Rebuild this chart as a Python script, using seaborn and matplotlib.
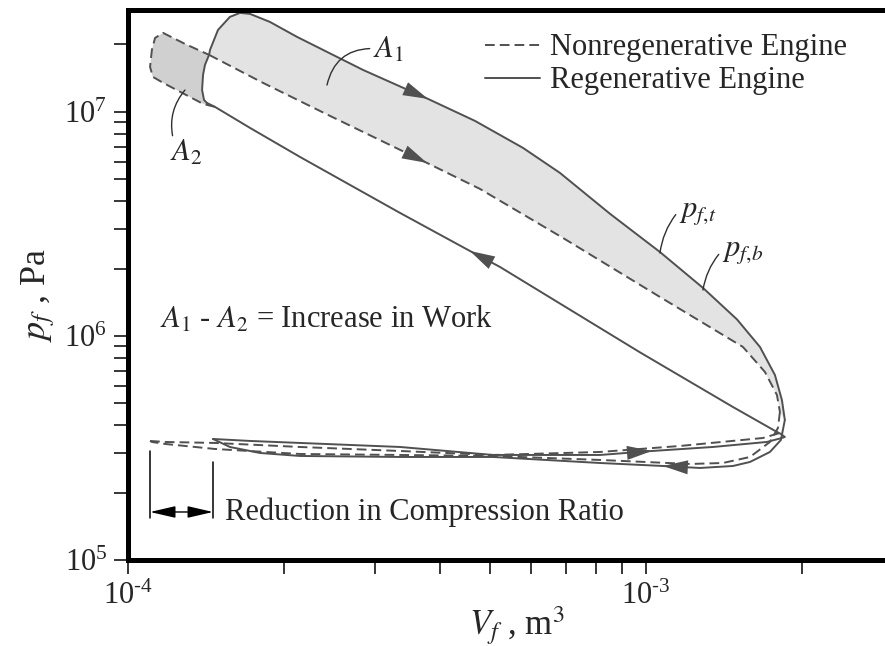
import numpy as np
import pandas as pd
import matplotlib
matplotlib.use("Agg")
import matplotlib.pyplot as plt
from matplotlib.ticker import LogLocator, NullFormatter, FuncFormatter
import seaborn as sns

# ---- cycle data: volume V_f [m^3] and pressure p_f [Pa] ----
# compression stroke shared by both engines (max volume -> min volume)
comp_V = np.array([17.90, 14.72, 9.737, 5.226, 4.571, 3.351, 2.148, 1.720, 1.472, 1.420]) * 1e-4
comp_p = np.array([3.728, 4.819, 8.45, 20.32, 23.96, 35.41, 62.96, 84.85, 105.3, 109.7]) * 1e5

# regenerative engine
regen_rise_V = np.array([1.420, 1.402, 1.390, 1.396, 1.408, 1.434]) * 1e-4
regen_rise_p = np.array([109.7, 113.1, 125.4, 146.3, 162.1, 179.7]) * 1e5
regen_exp_V = np.array([1.434, 1.440, 1.492, 1.573, 1.645, 1.720, 1.879, 2.120, 2.842, 3.795, 4.677,
                        5.788, 6.823, 8.522, 10.64, 12.88, 14.99, 16.60, 17.74, 18.30, 18.54]) * 1e-4
regen_exp_p = np.array([179.7, 189.2, 232.3, 265.5, 276.7, 273.8, 252.2, 216.2, 154.0, 114.3, 91.16,
                        69.1, 53.42, 35.1, 23.7, 16.4, 11.85, 8.930, 6.697, 5.179, 4.217]) * 1e5
regen_ret_V = np.array([18.54, 18.22, 17.35, 15.88, 14.72, 12.71, 10.78, 8.151, 5.066, 3.351, 2.148,
                        1.798, 1.573, 1.459]) * 1e-4
regen_ret_p = np.array([4.217, 3.434, 3.035, 2.739, 2.628, 2.575, 2.628, 2.710, 2.883, 2.883, 2.913,
                        3.004, 3.195, 3.469]) * 1e5
regen_out_V = np.array([1.459, 1.720, 2.148, 3.351, 5.066, 8.151, 10.27, 13.47, 17.12, 18.30, 18.54,
                        18.22, 17.90]) * 1e-4
regen_out_p = np.array([3.469, 3.399, 3.330, 3.195, 2.943, 2.943, 3.066, 3.195, 3.364, 3.504, 3.541,
                        3.652, 3.728]) * 1e5

# nonregenerative engine
nonreg_rise_V = np.array([1.472, 1.396, 1.169, 1.117, 1.103, 1.112, 1.128, 1.169, 1.288, 1.434]) * 1e-4
nonreg_rise_p = np.array([105.3, 108.6, 134.8, 143.3, 158.8, 189.2, 214.0, 225.2, 201.2, 179.7]) * 1e5
nonreg_exp_V = np.array([1.434, 1.822, 2.455, 3.778, 4.780, 6.915, 10.64, 15.39, 16.97, 17.90, 18.14]) * 1e-4
nonreg_exp_p = np.array([179.7, 134.8, 95.97, 59.2, 45.33, 27.38, 14.93, 8.930, 6.907, 5.453, 4.579]) * 1e5
nonreg_ret_V = np.array([18.14, 17.98, 17.35, 15.88, 14.08, 12.16, 8.151, 5.066, 3.351, 2.148, 1.472,
                         1.179, 1.112, 1.103]) * 1e-4
nonreg_ret_p = np.array([4.579, 3.884, 3.364, 2.883, 2.710, 2.683, 2.796, 2.913, 2.943, 2.973, 3.130,
                         3.296, 3.364, 3.399]) * 1e5
nonreg_out_V = np.array([1.103, 1.179, 1.472, 2.148, 3.351, 5.066, 8.151, 11.63, 16.82, 18.14, 17.90]) * 1e-4
nonreg_out_p = np.array([3.399, 3.364, 3.330, 3.195, 3.066, 2.943, 3.035, 3.228, 3.504, 3.690, 3.728]) * 1e5

engine_names = ["Nonregenerative Engine", "Regenerative Engine"]

# ---- styling ----
sns.set_theme(style="ticks")
plt.rcParams["font.family"] = ["Liberation Serif", "DejaVu Serif"]
plt.rcParams["mathtext.fontset"] = "stix"
plt.rcParams["axes.unicode_minus"] = False

LINE = "#505050"
DASH = (0, (5, 2.6))
LW = 1.4
FS = 22

fig = plt.figure(figsize=(8.85, 6.46), dpi=100)
ax = fig.add_axes([128 / 885, 86 / 646, 765.1 / 885, 550 / 646])
ax.set_xscale("log")
ax.set_yscale("log")
ax.set_xlim(1e-4, 3e-3)
ax.set_ylim(1e5, 2.85e7)

# shaded work areas
a1_V = np.concatenate([regen_exp_V, nonreg_exp_V[::-1]])
a1_p = np.concatenate([regen_exp_p, nonreg_exp_p[::-1]])
ax.fill(a1_V, a1_p, color="#e3e3e3", lw=0, zorder=1)
a2_V = np.concatenate([nonreg_rise_V, regen_rise_V[::-1]])
a2_p = np.concatenate([nonreg_rise_p, regen_rise_p[::-1]])
ax.fill(a2_V, a2_p, color="#d0d0d0", lw=0, zorder=1)

# cycle strokes
rows = []
strokes = [
    ("Regenerative Engine", "comp", comp_V, comp_p),
    ("Regenerative Engine", "rise", regen_rise_V, regen_rise_p),
    ("Regenerative Engine", "exp", regen_exp_V, regen_exp_p),
    ("Regenerative Engine", "ret", regen_ret_V, regen_ret_p),
    ("Regenerative Engine", "out", regen_out_V, regen_out_p),
    ("Nonregenerative Engine", "rise", nonreg_rise_V, nonreg_rise_p),
    ("Nonregenerative Engine", "exp", nonreg_exp_V, nonreg_exp_p),
    ("Nonregenerative Engine", "ret", nonreg_ret_V, nonreg_ret_p),
    ("Nonregenerative Engine", "out", nonreg_out_V, nonreg_out_p),
]
for eng, name, V, p in strokes:
    rows.append(pd.DataFrame({"V": V, "p": p, "engine": eng, "stroke": name}))
df = pd.concat(rows, ignore_index=True)

for (eng, name), sub in df.groupby(["engine", "stroke"], sort=False):
    sns.lineplot(data=sub, x="V", y="p", sort=False, estimator=None, ax=ax,
                 color=LINE, linewidth=LW,
                 linestyle="-" if eng == "Regenerative Engine" else DASH,
                 legend=False, zorder=2)


def flow_arrow(V, p, i):
    ax.annotate("", xy=(V[i], p[i]), xytext=(V[i - 1], p[i - 1]),
                arrowprops=dict(arrowstyle="-|>,head_length=1.5,head_width=0.42",
                                color=LINE, lw=0, shrinkA=0, shrinkB=0),
                zorder=4)


flow_arrow(regen_exp_V, regen_exp_p, 9)
flow_arrow(nonreg_exp_V, nonreg_exp_p, 3)
flow_arrow(comp_V, comp_p, 4)
flow_arrow(regen_out_V, regen_out_p, 6)
flow_arrow(regen_ret_V, regen_ret_p, 6)

# axes frame and ticks
for s in ax.spines.values():
    s.set_linewidth(3.6)
    s.set_color("black")


def decade_label(v, pos):
    e = int(round(np.log10(v)))
    exp = r"\text{-}%d" % abs(e) if e < 0 else "%d" % e
    return r"$\mathdefault{10^{%s}}$" % exp


ax.xaxis.set_major_locator(LogLocator(base=10))
ax.xaxis.set_minor_locator(LogLocator(base=10, subs=np.arange(2, 10)))
ax.yaxis.set_minor_locator(LogLocator(base=10, subs=np.arange(2, 10)))
ax.xaxis.set_major_formatter(FuncFormatter(decade_label))
ax.yaxis.set_major_formatter(FuncFormatter(decade_label))
ax.xaxis.set_minor_formatter(NullFormatter())
ax.yaxis.set_minor_formatter(NullFormatter())
ax.tick_params(which="both", direction="out", length=10, width=1.1, color="black",
               labelsize=FS, top=False, right=False)
ax.tick_params(axis="y", which="both", pad=5)
ax.tick_params(axis="x", which="both", pad=6)
ax.set_xlabel(r"$V_f$ , m$^3$", fontsize=25)
ax.set_ylabel(r"$p_f$ , Pa", fontsize=26)
ax.xaxis.set_label_coords(0.508, -0.080)
ax.yaxis.set_label_coords(-0.093, 0.482)

# labels with leader lines
leader = dict(arrowstyle="-", color="#303030", lw=1.0, shrinkA=0, shrinkB=0)
ax.annotate(r"$A_1$", xy=(0.2601, 0.8636), xycoords="axes fraction",
            xytext=(0.3202, 0.9273), textcoords="axes fraction", ha="left", va="center",
            fontsize=FS, arrowprops=dict(leader, connectionstyle="arc3,rad=0.4", relpos=(0, 0.55)))
ax.annotate(r"$A_2$", xy=(0.0745, 0.8545), xycoords="axes fraction",
            xytext=(0.0549, 0.7655), textcoords="axes fraction", ha="left", va="top",
            fontsize=FS, arrowprops=dict(leader, connectionstyle="arc3,rad=-0.25", relpos=(0.1, 1)))
ax.annotate(r"$p_{f,\!t}$", xy=(0.6953, 0.5582), xycoords="axes fraction",
            xytext=(0.7202, 0.6327), textcoords="axes fraction", ha="left", va="center",
            fontsize=FS, arrowprops=dict(leader, connectionstyle="arc3,rad=0.15", relpos=(0, 0.55)))
ax.annotate(r"$p_{f,\!b}$", xy=(0.7515, 0.4909), xycoords="axes fraction",
            xytext=(0.7764, 0.5600), textcoords="axes fraction", ha="left", va="center",
            fontsize=FS, arrowprops=dict(leader, connectionstyle="arc3,rad=0.15", relpos=(0, 0.55)))

ax.text(0.0418, 0.4218, r"$A_1$ - $A_2$ = Increase in Work", transform=ax.transAxes,
        fontsize=FS, va="baseline", ha="left")
ax.text(0.1268, 0.0727, "Reduction in Compression Ratio", transform=ax.transAxes,
        fontsize=FS, va="baseline", ha="left")

# compression-ratio bracket between the two minimum volumes
v_min_nonreg = min(nonreg_ret_V.min(), nonreg_out_V.min())
v_min_regen = min(regen_ret_V.min(), regen_out_V.min())
xtrans = ax.get_xaxis_transform()
ax.plot([v_min_nonreg, v_min_nonreg], [0.0764, 0.1982], transform=xtrans, color="black", lw=1.1)
ax.plot([v_min_regen, v_min_regen], [0.0764, 0.1782], transform=xtrans, color="black", lw=1.1)
ax.annotate("", xy=(v_min_regen, 0.0873), xycoords=xtrans,
            xytext=(v_min_nonreg, 0.0873), textcoords=xtrans,
            arrowprops=dict(arrowstyle="<|-|>,head_length=1.3,head_width=0.3",
                            color="black", lw=1.0, shrinkA=0, shrinkB=0))

# legend
ax.plot([0.4666, 0.5385], [0.9364, 0.9364], transform=ax.transAxes, color=LINE,
        lw=LW, linestyle=DASH)
ax.plot([0.4666, 0.5385], [0.8764, 0.8764], transform=ax.transAxes, color=LINE, lw=LW)
ax.text(0.5516, 0.9182, engine_names[0], transform=ax.transAxes, fontsize=FS, va="baseline")
ax.text(0.5516, 0.8582, engine_names[1], transform=ax.transAxes, fontsize=FS, va="baseline")

fig.savefig("out.png", dpi=100, facecolor="white")
